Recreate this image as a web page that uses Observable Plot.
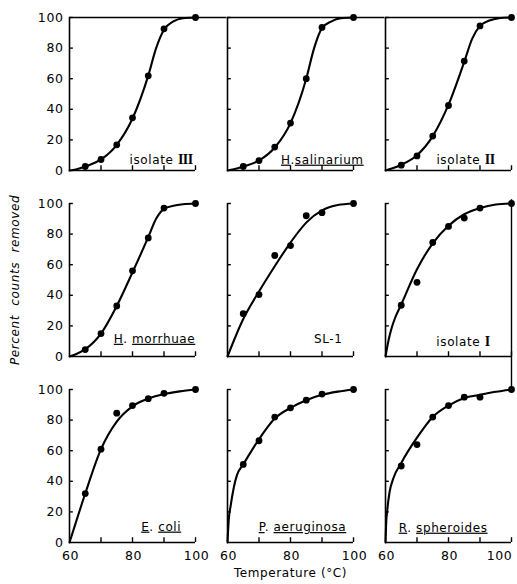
<!DOCTYPE html>
<html><head><meta charset="utf-8">
<script src="https://cdn.jsdelivr.net/npm/d3@7"></script>
<script src="https://cdn.jsdelivr.net/npm/@observablehq/plot@0.6"></script>
<style>
body{margin:0;background:#fff}
#chart svg{display:block}
#chart svg text{letter-spacing:0.6px}
</style>
</head><body><div id="chart"></div>
<script>
// ---------- data ----------
const panelNames = ["isolate III","H.salinarium","isolate II","H. morrhuae","SL-1","isolate I","E. coli","P. aeruginosa","R. spheroides"];
const pointTemps = [65, 70, 75, 80, 85, 90, 100];
const isolate3Pts   = [2.6, 7.2, 16.8, 34.4, 61.9, 92.6, 100];
const salinariumPts = [2.6, 6.5, 15.3, 31, 60, 93.5, 100];
const isolate2Pts   = [3.5, 9.5, 22.5, 42.5, 71.5, 94.5, 100];
const morrhuaePts   = [4.5, 15, 33, 56, 77.5, 97, 100];
const sl1Pts        = [28, 40.5, 66, 72.5, 92, 94, 100];
const isolate1Pts   = [33.5, 48.5, 74.5, 85, 90.5, 97, 100];
const ecoliPts      = [32, 61, 84.5, 89.5, 94, 97.5, 100];
const aeruginosaPts = [51, 66.5, 82, 88, 93, 97, 100];
const spheroidesPts = [50, 64, 82, 89.5, 95, 95, 100];
const pointValues = [isolate3Pts, salinariumPts, isolate2Pts, morrhuaePts, sl1Pts, isolate1Pts, ecoliPts, aeruginosaPts, spheroidesPts];

// fitted curves
const sigmoidTemps   = [60, 62, 65, 70, 75, 80, 85, 87.5, 90, 93, 96, 100];
const isolate3Curve  = [0, 0.7, 2.6, 7.2, 16.8, 34, 62, 80, 92, 97.5, 99.5, 100];
const salinariumCurve= [0, 0.8, 2.6, 6.5, 15, 31, 60, 80, 93, 97.5, 99.5, 100];
const isolate2Curve  = [0, 1.3, 3.8, 10, 22.5, 43, 71, 86, 94.5, 98, 99.5, 100];
const morrhuaeCurve  = [0, 1.5, 4.8, 15, 33, 55, 78, 90, 96.5, 98.5, 99.5, 100];
const sl1Temps       = [60, 65, 70, 75, 80, 85, 90, 95, 100];
const sl1Curve       = [0, 24.5, 42.5, 59, 74.5, 87.5, 95.5, 99, 100];
const isolate1Temps  = [60, 61, 62, 63, 65, 70, 75, 80, 85, 90, 95, 100];
const isolate1Curve  = [0, 11, 19, 25, 34, 57, 74, 85.5, 93, 97, 99.3, 100];
const ecoliTemps     = [60, 62, 65, 70, 75, 80, 85, 90, 95, 100];
const ecoliCurve     = [0, 13, 32, 61, 79, 89, 94, 97, 98.8, 100];
const aeruginosaTemps= [60, 60.4, 61, 62, 63, 65, 70, 75, 80, 85, 90, 95, 100];
const aeruginosaCurve= [0, 15, 24, 36, 44, 51, 67.5, 81, 88, 93, 96.5, 98.6, 100];
const spheroidesTemps= [60, 60.2, 60.6, 61.3, 62.5, 65, 70, 75, 80, 85, 90, 95, 100];
const spheroidesCurve= [0, 12, 22, 33, 42, 52, 68.5, 82, 89.5, 94.5, 96.5, 98.5, 100];
const curveTemps  = [sigmoidTemps, sigmoidTemps, sigmoidTemps, sigmoidTemps, sl1Temps, isolate1Temps, ecoliTemps, aeruginosaTemps, spheroidesTemps];
const curveValues = [isolate3Curve, salinariumCurve, isolate2Curve, morrhuaeCurve, sl1Curve, isolate1Curve, ecoliCurve, aeruginosaCurve, spheroidesCurve];

const xDomain = [60, 100];
const yDomain = [0, 100];
const xTicks = [70, 80, 90, 100];
const yTicks = [20, 40, 60, 80, 100];
const xTickLabels = [60, 80, 100];
const yTickLabels = [0, 20, 40, 60, 80, 100];
const xTitle = "Temperature (°C)";
const yTitle = "Percent counts removed";

// ---------- layout ----------
const W = 517, H = 584, mL = 68, mR = 4, mT = 16, mB = 41;
const padX = 0.2, padY = 0.18;
const stepX = (W - mL - mR) / (3 - padX), bwX = stepX * (1 - padX);
const stepY = (H - mT - mB) / (3 - padY), bwY = stepY * (1 - padY);
const pxPerX = bwX / (xDomain[1] - xDomain[0]);
const pxPerY = bwY / (yDomain[1] - yDomain[0]);
const gapX = (stepX - bwX) / pxPerX, gapY = (stepY - bwY) / pxPerY;
// label placement (centre x in °C, centre y in %)
const labelX = [89.1, 90.1, 85.4, 87, 92, 84.6, 89.1, 83.8, 78.3];
const labelY = [7, 7, 7, 11.5, 11.4, 9.5, 10.3, 10, 9.6];

// ---------- tables ----------
const cell = i => ({col: i % 3, row: Math.floor(i / 3)});
const frames = panelNames.map((name, i) => ({...cell(i), name, lx: labelX[i], ly: labelY[i]}));
const points = panelNames.flatMap((n, i) => pointTemps.map((t, j) => ({...cell(i), t, v: pointValues[i][j]})));
const curves = panelNames.flatMap((n, i) => curveTemps[i].map((t, j) => ({...cell(i), t, v: curveValues[i][j]})));
const yTickRows = frames.flatMap(f => yTicks.map(v => ({col: f.col, row: f.row, v})));
const xTickRows = frames.flatMap(f => xTicks.map(t => ({col: f.col, row: f.row, t})));
const yLabelRows = frames.filter(f => f.col === 0).flatMap(f => yTickLabels.map(v => ({col: 0, row: f.row, v})));
const xLabelRows = frames.filter(f => f.row === 2).flatMap(f => xTickLabels.map(t => ({col: f.col, row: 2, t,
  shift: (f.col === 2 && t === xDomain[1]) ? -12 : 1})));
const topRule = frames.filter(f => f.row === 0).map(f => ({col: f.col, row: 0, x2: f.col < 2 ? xDomain[1] + gapX : xDomain[1]}));
const rightRule = [{col: 2, row: 1, y1: yDomain[0] - gapY, y2: yDomain[1] + 2.5}];

const F = {fx: "col", fy: "row"};
const chart = Plot.plot({
  width: W, height: H,
  marginLeft: mL, marginRight: mR, marginTop: mT, marginBottom: mB,
  style: {fontFamily: "DejaVu Sans, sans-serif", fontSize: "12px", color: "black", background: "white"},
  x: {domain: xDomain, axis: null},
  y: {domain: yDomain, axis: null},
  fx: {domain: [0, 1, 2], axis: null, paddingInner: padX, paddingOuter: 0},
  fy: {domain: [0, 1, 2], axis: null, paddingInner: padY, paddingOuter: 0},
  marks: [
    Plot.ruleX(frames, {x: xDomain[0], y1: yDomain[0], y2: yDomain[1], ...F, strokeWidth: 1.6}),
    Plot.ruleY(frames, {y: yDomain[0], x1: xDomain[0], x2: xDomain[1], ...F, strokeWidth: 1.6}),
    Plot.ruleY(topRule, {y: yDomain[1], x1: xDomain[0], x2: "x2", ...F, strokeWidth: 1.4}),
    Plot.ruleX(rightRule, {x: xDomain[1], y1: "y1", y2: "y2", ...F, strokeWidth: 1.4}),
    Plot.tickY(yTickRows, {y: "v", ...F, insetRight: bwX - 5, strokeWidth: 1.4}),
    Plot.tickX(xTickRows, {x: "t", ...F, insetTop: bwY - 5, strokeWidth: 1.4}),
    Plot.line(curves, {x: "t", y: "v", ...F, curve: "monotone-x", strokeWidth: 2.1}),
    Plot.dot(points, {x: "t", y: "v", ...F, r: 3.4, fill: "black", stroke: "none"}),
    Plot.text(frames, {x: "lx", y: "ly", text: "name", ...F, fontSize: 12, textAnchor: "middle"}),
    Plot.text(yLabelRows, {x: xDomain[0], y: "v", text: d => String(d.v), ...F, textAnchor: "end", dx: -6, fontSize: 12.5}),
    ...[1, -12].map(s => Plot.text(xLabelRows.filter(d => d.shift === s), {x: "t", y: yDomain[0], text: d => String(d.t), ...F, dy: 13, dx: s, fontSize: 12.5})),
    Plot.text([{col: 1, row: 2}], {x: 80, y: yDomain[0], text: () => xTitle, ...F, dy: 31, fontSize: 12}),
    Plot.text([{col: 0, row: 1}], {x: xDomain[0], y: 50, text: () => yTitle, ...F, rotate: -90, dx: -54, fontSize: 12, fontStyle: "italic"})
  ]
});
document.getElementById("chart").appendChild(chart);

// styling of panel labels: underlined genus/species, roman numerals
const parts = {
  "isolate III": [["isolate ", ""], ["III", "r"]],
  "isolate II": [["isolate ", ""], ["II", "r"]],
  "isolate I": [["isolate ", ""], ["I", "r"]],
  "H.salinarium": [["H", "u"], [".", ""], ["salinarium", "u"]],
  "H. morrhuae": [["H", "u"], [". ", ""], ["morrhuae", "u"]],
  "E. coli": [["E", "u"], [". ", ""], ["coli", "u"]],
  "P. aeruginosa": [["P", "u"], [". ", ""], ["aeruginosa", "u"]],
  "R. spheroides": [["R", "u"], [". ", ""], ["spheroides", "u"]]
};
const ns = "http://www.w3.org/2000/svg";
chart.querySelectorAll("text").forEach(t => {
  const txt = t.textContent;
  if (txt === yTitle) t.style.wordSpacing = "5px";
  const p = parts[txt];
  if (!p) return;
  t.textContent = "";
  t.setAttribute("xml:space", "preserve");
  t.style.whiteSpace = "pre";
  p.forEach(([s, k]) => {
    const ts = document.createElementNS(ns, "tspan");
    ts.textContent = s;
    if (k === "u") ts.style.textDecoration = "underline";
    if (k === "r") { ts.style.fontFamily = "Liberation Serif, serif"; ts.style.fontWeight = "bold"; ts.style.fontSize = "14px"; ts.style.letterSpacing = "-0.5px"; }
    t.appendChild(ts);
  });
});
</script>
</body></html>
